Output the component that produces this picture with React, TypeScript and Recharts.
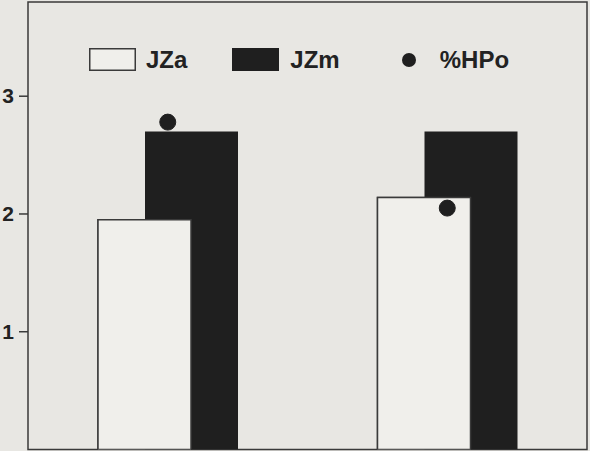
import React from "react";
import { ComposedChart, Bar, Line, XAxis, YAxis, ReferenceArea, Legend } from "recharts";

// values
const groups = ["A", "B"];
const jzaValues = [1.95, 2.14];
const jzmValues = [2.7, 2.7];
const hpoValues = [2.78, 2.05];
const yTicks = [1, 2, 3];

const data = groups.map((g, i) => ({
  group: g,
  JZa: jzaValues[i],
  JZm: jzmValues[i],
  HPo: hpoValues[i],
}));

const W = 590;
const H = 451;
const BG = "#e8e7e3";
const PAPER = "#f0efeb";
const INK = "#1f1f1f";
const LINE = "#3a3a3a";
const FONT = "'Liberation Sans', Arial, Helvetica, sans-serif";
const margin = { top: 2, right: 3, bottom: 1.5, left: 0 };

function LegendBox() {
  const text: React.CSSProperties = { fontSize: 24, fontWeight: 700, color: "#222", fontFamily: FONT, lineHeight: "23px" };
  return (
    <div style={{ display: "flex", alignItems: "center", height: 23 }}>
      <svg width={47} height={23}>
        <rect x={0.75} y={0.75} width={45.5} height={21.5} fill={PAPER} stroke={LINE} strokeWidth={1.5} />
      </svg>
      <span style={{ ...text, marginLeft: 10 }}>JZa</span>
      <svg width={47} height={23} style={{ marginLeft: 45 }}>
        <rect x={0} y={0} width={47} height={23} fill={INK} />
      </svg>
      <span style={{ ...text, marginLeft: 11 }}>JZm</span>
      <svg width={16} height={16} style={{ marginLeft: 61 }}>
        <circle cx={8} cy={8} r={7} fill={INK} />
      </svg>
      <span style={{ ...text, marginLeft: 23 }}>%HPo</span>
    </div>
  );
}

function YTick(props: any) {
  const { x, y, payload } = props;
  return (
    <text x={x} y={y} dy={7} textAnchor="end" fontSize={21} fontWeight={700} fill="#222" fontFamily={FONT}>
      {payload.value}
    </text>
  );
}

export default function App() {
  const yAxisProps = {
    domain: [0, 3.8] as [number, number],
    ticks: yTicks,
    width: 28,
    allowDataOverflow: true,
  };
  return (
    <div style={{ position: "absolute", left: 0, top: 0, width: W, height: H, background: BG, overflow: "hidden" }}>
      {/* base layer: frame, axis, both bar series */}
      <div style={{ position: "absolute", left: 0, top: 0 }}>
        <ComposedChart width={W} height={H} data={data} margin={margin} barGap={-46} barSize={93}>
          <XAxis dataKey="group" hide />
          <YAxis
            {...yAxisProps}
            axisLine={false}
            tickLine={{ stroke: LINE, strokeWidth: 1.5 }}
            tickSize={9}
            tickMargin={5}
            tick={<YTick />}
          />
          <ReferenceArea y1={0} y2={3.8} fill="none" stroke={LINE} strokeWidth={1.5} />
          <Bar dataKey="JZa" fill={PAPER} stroke={LINE} strokeWidth={1.5} isAnimationActive={false} />
          <Bar dataKey="JZm" fill={INK} isAnimationActive={false} />
        </ComposedChart>
      </div>
      {/* overlay: white bars sit in front of the black ones, plus the %HPo dots */}
      <div style={{ position: "absolute", left: 0, top: 0 }}>
        <ComposedChart width={W} height={H} data={data} margin={margin} barGap={-46} barSize={93}>
          <XAxis dataKey="group" hide />
          <YAxis {...yAxisProps} axisLine={false} tickLine={false} tick={false} />
          <Bar dataKey="JZa" fill={PAPER} stroke={LINE} strokeWidth={1.5} isAnimationActive={false} />
          <Bar dataKey="JZm" fill="none" stroke="none" isAnimationActive={false} />
          <Line
            dataKey="HPo"
            stroke="none"
            dot={{ r: 8, fill: INK, stroke: INK, strokeWidth: 1 }}
            activeDot={false}
            isAnimationActive={false}
          />
          <Legend
            layout="horizontal"
            verticalAlign="middle"
            align="center"
            content={() => <LegendBox />}
            wrapperStyle={{ top: 48, left: 89, width: "auto" }}
          />
        </ComposedChart>
      </div>
    </div>
  );
}
